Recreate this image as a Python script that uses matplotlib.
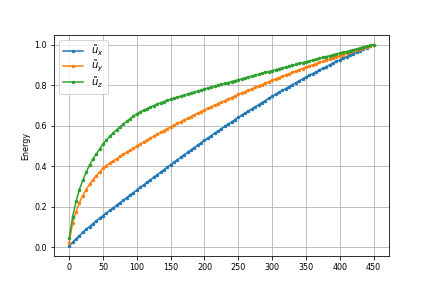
import matplotlib
matplotlib.use("Agg")
import matplotlib.pyplot as plt

plt.rcParams["font.size"] = 8

# iterations, every 5 steps
steps = list(range(0, 455, 5))

energy_x = [
    0.005, 0.024, 0.041, 0.057, 0.073, 0.088, 0.102, 0.116, 0.130, 0.143,
    0.156, 0.169, 0.182, 0.194, 0.207, 0.220, 0.232, 0.245, 0.258, 0.270,
    0.283, 0.295, 0.308, 0.320, 0.333, 0.345, 0.358, 0.370, 0.383, 0.395,
    0.408, 0.420, 0.432, 0.444, 0.456, 0.468, 0.480, 0.492, 0.504, 0.516,
    0.528, 0.539, 0.551, 0.562, 0.573, 0.585, 0.596, 0.607, 0.618, 0.630,
    0.641, 0.651, 0.662, 0.672, 0.683, 0.693, 0.703, 0.714, 0.724, 0.735,
    0.745, 0.755, 0.764, 0.774, 0.783, 0.793, 0.802, 0.812, 0.821, 0.831,
    0.840, 0.849, 0.857, 0.866, 0.874, 0.883, 0.891, 0.900, 0.908, 0.917,
    0.925, 0.933, 0.940, 0.948, 0.955, 0.963, 0.970, 0.978, 0.985, 0.993,
    1.000,
]

energy_y = [
    0.020, 0.120, 0.175, 0.220, 0.255, 0.285, 0.310, 0.333, 0.353, 0.372,
    0.390, 0.403, 0.415, 0.426, 0.437, 0.448, 0.459, 0.469, 0.479, 0.489,
    0.499, 0.509, 0.519, 0.529, 0.539, 0.548, 0.558, 0.567, 0.576, 0.585,
    0.594, 0.603, 0.611, 0.620, 0.628, 0.636, 0.645, 0.653, 0.661, 0.670,
    0.678, 0.686, 0.693, 0.701, 0.709, 0.716, 0.724, 0.731, 0.739, 0.746,
    0.754, 0.761, 0.768, 0.775, 0.782, 0.789, 0.796, 0.803, 0.810, 0.817,
    0.824, 0.830, 0.837, 0.843, 0.850, 0.856, 0.863, 0.869, 0.876, 0.882,
    0.889, 0.895, 0.900, 0.906, 0.912, 0.918, 0.923, 0.929, 0.935, 0.940,
    0.946, 0.951, 0.957, 0.962, 0.968, 0.973, 0.978, 0.984, 0.989, 0.995,
    1.000,
]

energy_z = [
    0.044, 0.150, 0.226, 0.285, 0.330, 0.370, 0.405, 0.435, 0.460, 0.485,
    0.510, 0.529, 0.547, 0.564, 0.579, 0.594, 0.608, 0.621, 0.634, 0.647,
    0.659, 0.668, 0.676, 0.684, 0.692, 0.699, 0.706, 0.713, 0.719, 0.725,
    0.731, 0.736, 0.741, 0.746, 0.751, 0.756, 0.761, 0.766, 0.771, 0.776,
    0.781, 0.786, 0.790, 0.795, 0.800, 0.804, 0.809, 0.813, 0.818, 0.822,
    0.827, 0.831, 0.836, 0.840, 0.845, 0.849, 0.854, 0.858, 0.863, 0.867,
    0.872, 0.876, 0.881, 0.885, 0.889, 0.894, 0.898, 0.902, 0.907, 0.911,
    0.915, 0.919, 0.924, 0.928, 0.932, 0.937, 0.941, 0.945, 0.949, 0.954,
    0.958, 0.962, 0.966, 0.971, 0.975, 0.979, 0.983, 0.987, 0.992, 0.996,
    1.000,
]

labels = [r"$\tilde{u}_x$", r"$\tilde{u}_y$", r"$\tilde{u}_z$"]
xticks = list(range(0, 451, 50))

fig, ax = plt.subplots(figsize=(6, 4), dpi=72)
for vals, lab in zip([energy_x, energy_y, energy_z], labels):
    ax.plot(steps, vals, ".-", markersize=5, label=lab)

ax.set_xticks(xticks)
ax.set_ylabel("Energy")
ax.grid(True)
ax.legend(loc="upper left", fontsize=10, labelspacing=0.05)
fig.savefig("out.png", dpi=72)
